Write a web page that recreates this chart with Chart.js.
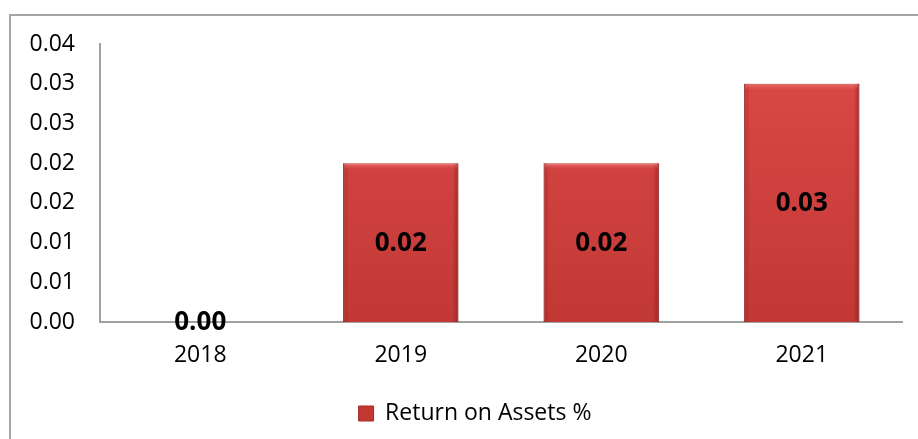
<!DOCTYPE html>
<html>
<head>
<meta charset="utf-8">
<script src="https://cdn.jsdelivr.net/npm/chart.js@4"></script>
<style>
  body { margin: 0; background: #fff; overflow: hidden; }
  #wrap { position: relative; width: 918px; height: 439px; }
  #frame { position: absolute; left: 9px; top: 14px; width: 1000px; height: 1000px; border: 2px solid #a6a6a6; }
  canvas { position: absolute; left: 0; top: 0; }
</style>
</head>
<body>
<div id="wrap">
  <div id="frame"></div>
  <canvas id="roaChart" width="918" height="439"></canvas>
</div>
<script>
const years = ["2018", "2019", "2020", "2021"];
const roa = [0.0, 0.02, 0.02, 0.03];
const roaLabels = ["0.00", "0.02", "0.02", "0.03"];
const yTickValues = [0, 0.005, 0.01, 0.015, 0.02, 0.025, 0.03, 0.035];
const yTickLabels = ["0.00", "0.01", "0.01", "0.02", "0.02", "0.03", "0.03", "0.04"];

const FONT = "'Open Sans', 'Liberation Sans', sans-serif";

// soft bevel on the bars, like the office chart style
const barBevel = {
  id: "barBevel",
  afterDatasetsDraw(chart) {
    const ctx = chart.ctx;
    chart.getDatasetMeta(0).data.forEach((bar) => {
      const p = bar.getProps(["x", "y", "base", "width"], true);
      const h = p.base - p.y;
      if (h < 4) return;
      const l = p.x - p.width / 2, r = p.x + p.width / 2, e = 6;
      ctx.save();
      let g = ctx.createLinearGradient(l, 0, l + e, 0);
      g.addColorStop(0, "rgba(120,20,20,0.35)");
      g.addColorStop(1, "rgba(120,20,20,0)");
      ctx.fillStyle = g;
      ctx.fillRect(l, p.y, e, h);
      g = ctx.createLinearGradient(r - e, 0, r, 0);
      g.addColorStop(0, "rgba(110,15,15,0)");
      g.addColorStop(1, "rgba(110,15,15,0.45)");
      ctx.fillStyle = g;
      ctx.fillRect(r - e, p.y, e, h);
      g = ctx.createLinearGradient(0, p.y, 0, p.y + e);
      g.addColorStop(0, "rgba(255,150,150,0.45)");
      g.addColorStop(1, "rgba(255,150,150,0)");
      ctx.fillStyle = g;
      ctx.fillRect(l + 1, p.y, p.width - 2, e);
      ctx.restore();
    });
  },
};

// labels drawn in the middle of each bar
const barValueLabels = {
  id: "barValueLabels",
  afterDatasetsDraw(chart) {
    const ctx = chart.ctx;
    const meta = chart.getDatasetMeta(0);
    ctx.save();
    ctx.font = "bold 26px " + FONT;
    ctx.fillStyle = "#000";
    ctx.textAlign = "center";
    ctx.textBaseline = "middle";
    meta.data.forEach((bar, i) => {
      const p = bar.getProps(["x", "y", "base"], true);
      ctx.fillText(roaLabels[i], p.x, (p.y + p.base) / 2 + 1);
    });
    ctx.restore();
  },
};

// nudge the legend a bit right, it sits off-centre in the original
const legendShift = {
  id: "legendShift",
  afterLayout(chart) {
    if (chart.legend) chart.legend.left += 48;
  },
};

const ctx = document.getElementById("roaChart").getContext("2d");
const roaChart = new Chart(ctx, {
  type: "bar",
  data: {
    labels: years,
    datasets: [
      {
        label: "Return on Assets %",
        data: roa,
        backgroundColor(c) {
          const area = c.chart.chartArea;
          if (!area) return "#d44240";
          const g = c.chart.ctx.createLinearGradient(0, area.top, 0, area.bottom);
          g.addColorStop(0, "#dc4a47");
          g.addColorStop(1, "#c23835");
          return g;
        },
        borderColor: "#a42a28",
        borderWidth: 1,
        barPercentage: 0.575,
        categoryPercentage: 1,
      },
    ],
  },
  options: {
    responsive: false,
    animation: false,
    layout: {
      padding: { left: 0, right: 16, top: 44, bottom: 4 },
    },
    plugins: {
      legend: {
        position: "bottom",
        labels: {
          color: "#000",
          boxWidth: 15,
          boxHeight: 15,
          padding: 5,
          font: { family: FONT, size: 23 },
        },
      },
      tooltip: { enabled: false },
    },
    scales: {
      x: {
        grid: { display: false, drawTicks: false },
        border: { display: true, color: "#a0a0a0", width: 2 },
        ticks: {
          color: "#000",
          padding: 20,
          font: { family: FONT, size: 23 },
        },
        afterFit(scale) {
          scale.height = 75;
        },
      },
      y: {
        min: 0,
        max: 0.035,
        grid: { display: false, drawTicks: false },
        border: { display: true, color: "#a0a0a0", width: 2 },
        afterBuildTicks(scale) {
          scale.ticks = yTickValues.map((v) => ({ value: v }));
        },
        ticks: {
          color: "#000",
          padding: 25,
          font: { family: FONT, size: 23 },
          callback: (v, i) => yTickLabels[i],
        },
        afterFit(scale) {
          scale.width = 100;
        },
      },
    },
  },
  plugins: [legendShift, barBevel, barValueLabels],
});
</script>
</body>
</html>
